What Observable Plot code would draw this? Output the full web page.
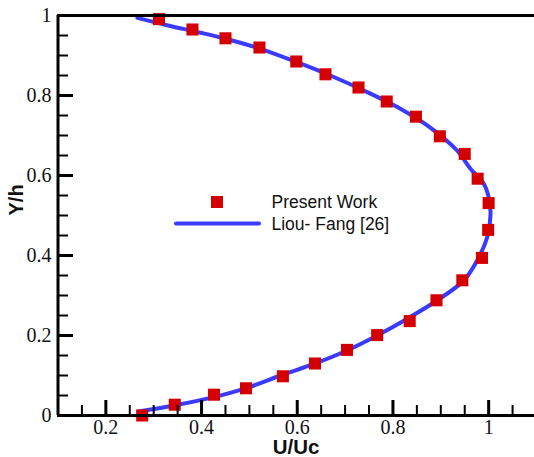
<!DOCTYPE html>
<html>
<head>
<meta charset="utf-8">
<script src="https://cdn.jsdelivr.net/npm/d3@7"></script>
<script src="https://cdn.jsdelivr.net/npm/@observablehq/plot@0.6"></script>
<style>
  html, body { margin: 0; padding: 0; background: #fff; }
  #wrap { position: relative; width: 534px; height: 457px; overflow: hidden; }
  #legend { position: absolute; left: 0; top: 0; width: 534px; height: 457px; pointer-events: none; }
</style>
</head>
<body>
<div id="wrap"><div id="chart"></div>
<svg id="legend" width="534" height="457"></svg>
</div>
<script>
// Present Work (markers): U/Uc and Y/h
const presentU = [0.276, 0.344, 0.426, 0.493, 0.570, 0.637, 0.704, 0.767, 0.835, 0.891, 0.945, 0.986, 0.999, 1.000, 0.977, 0.950, 0.898, 0.848, 0.787, 0.728, 0.659, 0.598, 0.521, 0.450, 0.381, 0.311];
const presentY = [0.000, 0.027, 0.052, 0.068, 0.098, 0.130, 0.164, 0.201, 0.236, 0.288, 0.338, 0.394, 0.464, 0.531, 0.592, 0.654, 0.698, 0.747, 0.785, 0.820, 0.853, 0.885, 0.920, 0.943, 0.965, 0.991];

// Liou- Fang [26] (line)
const liouU = [0.268, 0.342, 0.426, 0.495, 0.565, 0.635, 0.704, 0.767, 0.830, 0.892, 0.948, 0.976, 0.997, 1.004, 1.000, 0.990, 0.962, 0.934, 0.880, 0.809, 0.739, 0.669, 0.598, 0.520, 0.450, 0.398, 0.330, 0.266];
const liouY = [0.010, 0.025, 0.046, 0.069, 0.100, 0.129, 0.1625, 0.200, 0.242, 0.2875, 0.3375, 0.3875, 0.446, 0.504, 0.546, 0.579, 0.617, 0.6625, 0.718, 0.771, 0.8125, 0.850, 0.884, 0.918, 0.942, 0.957, 0.975, 0.994];

const xMajorTicks = [0.2, 0.4, 0.6, 0.8, 1];
const xMinorTicks = [0.15, 0.25, 0.3, 0.35, 0.45, 0.5, 0.55, 0.65, 0.7, 0.75, 0.85, 0.9, 0.95, 1.05];
const yMajorTicks = [0, 0.2, 0.4, 0.6, 0.8, 1];
const yMinorTicks = [0.05, 0.1, 0.15, 0.25, 0.3, 0.35, 0.45, 0.5, 0.55, 0.65, 0.7, 0.75, 0.85, 0.9, 0.95];

const seriesNames = ["Present Work", "Liou- Fang [26]"];
const xTitle = "U/Uc";
const yTitle = "Y/h";

const present = presentU.map((u, i) => ({u, y: presentY[i]}));
const liou = liouU.map((u, i) => ({u, y: liouY[i]}));

const RED = "#d40000";
const BLUE = "#3b3bff";
const serif = "'Liberation Serif', 'Times New Roman', serif";
const sans = "'Liberation Sans', Arial, sans-serif";
const fmt = d => String(d);

const chart = Plot.plot({
  width: 534,
  height: 457,
  marginLeft: 57,
  marginRight: 0,
  marginTop: 15,
  marginBottom: 42,
  style: {background: "#fff", overflow: "visible"},
  x: {domain: [0.1, 1.1], range: [57.5, 536]},
  y: {domain: [0, 1]},
  marks: [
    Plot.line(liou, {x: "u", y: "y", stroke: BLUE, strokeWidth: 4, curve: "catmull-rom"}),
    Plot.dot(present, {x: "u", y: "y", symbol: "square", r: 6.8, fill: RED, stroke: "none"}),
    // tick marks (inward)
    Plot.axisX(xMinorTicks, {anchor: "bottom", tickSize: -10, strokeWidth: 2, tickFormat: () => "", label: null}),
    Plot.axisX(xMajorTicks, {anchor: "bottom", tickSize: -15, strokeWidth: 3, tickFormat: () => "", label: null}),
    Plot.axisY(yMinorTicks, {anchor: "left", tickSize: -11, strokeWidth: 2, tickFormat: () => "", label: null}),
    Plot.axisY(yMajorTicks, {anchor: "left", tickSize: -16, strokeWidth: 3, tickFormat: () => "", label: null}),
    // tick labels
    Plot.text(xMajorTicks, {x: d => d, text: fmt, frameAnchor: "bottom", lineAnchor: "top", dy: 4,
      fontSize: 20, fontFamily: serif, fill: "#111"}),
    Plot.text(yMajorTicks, {y: d => d, text: fmt, frameAnchor: "left", textAnchor: "end", dx: -6,
      fontSize: 20, fontFamily: serif, fill: "#111"}),
    // frame lines
    Plot.ruleX([0.1], {stroke: "#000", strokeWidth: 3}),
    Plot.ruleY([0], {stroke: "#000", strokeWidth: 3}),
    Plot.ruleY([1], {stroke: "#000", strokeWidth: 3}),
    // axis titles
    Plot.text([xTitle], {text: d => d, frameAnchor: "bottom", dy: 38, fontSize: 20.5, fontWeight: "bold", fontFamily: sans, fill: "#111"}),
    Plot.text([yTitle], {text: d => d, frameAnchor: "left", dx: -41, rotate: -90, fontSize: 20, fontWeight: "bold", fontFamily: sans, fill: "#111"})
  ]
});
document.getElementById("chart").appendChild(chart);

// Legend (inside plot area)
const lg = d3.select("#legend");
lg.append("rect").attr("x", 211).attr("y", 196).attr("width", 12).attr("height", 12).attr("fill", RED);
lg.append("line").attr("x1", 176).attr("x2", 259).attr("y1", 223.5).attr("y2", 223.5)
  .attr("stroke", BLUE).attr("stroke-width", 4).attr("stroke-linecap", "round");
lg.selectAll("text.lab").data(seriesNames).join("text")
  .attr("x", 271.5).attr("y", (d, i) => 207.5 + i * 22)
  .attr("font-family", sans).attr("font-size", 17.5).attr("fill", "#111")
  .text(d => d);
</script>
</body>
</html>
